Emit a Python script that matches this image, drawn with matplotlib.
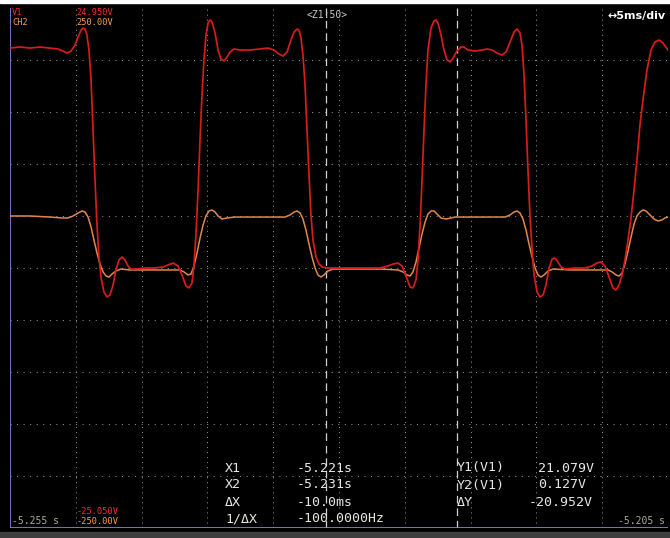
import matplotlib
matplotlib.use('Agg')
import matplotlib.pyplot as plt
from matplotlib.patches import Rectangle

plt.rcParams['lines.scale_dashes'] = False

# 画面设置: 5ms/div, 共10格
t_start = -5.255   # s
t_end = -5.205     # s
v1_top, v1_bottom = 24.950, -25.050
ch2_top, ch2_bottom = 250.00, -250.00

# 光标读数
x1, x2 = -5.221, -5.231
y1, y2 = 21.079, 0.127

# V1 波形 (ms 从左边缘起, V)
v1_t = [0.00, 0.76, 1.52, 2.28, 3.04, 3.65, 4.03, 4.33, 4.64, 4.94, 5.17, 5.40, 5.55, 5.70, 5.85,
        6.00, 6.16, 6.31, 6.46, 6.61, 6.76, 6.92, 7.14, 7.37, 7.60, 7.83, 8.05, 8.28, 8.51, 8.74,
        8.97, 9.19, 9.50, 10.26, 11.02, 11.63, 12.01, 12.39, 12.77, 13.07, 13.37, 13.60, 13.83,
        13.98, 14.13, 14.29, 14.44, 14.59, 14.74, 14.89, 15.05, 15.20, 15.35, 15.58, 15.81, 16.03,
        16.26, 16.49, 16.72, 17.02, 17.48, 18.24, 19.00, 19.60, 20.06, 20.44, 20.75, 21.05, 21.35,
        21.58, 21.81, 21.96, 22.11, 22.26, 22.42, 22.57, 22.72, 22.87, 23.02, 23.25, 23.48, 23.71,
        24.16, 25.08, 26.60, 28.12, 28.72, 29.10, 29.48, 29.79, 30.09, 30.40, 30.62, 30.85, 31.00,
        31.16, 31.31, 31.46, 31.61, 31.76, 31.99, 32.22, 32.37, 32.52, 32.75, 32.98, 33.21, 33.44,
        33.66, 33.97, 34.27, 34.50, 34.80, 35.34, 35.87, 36.25, 36.63, 37.01, 37.39, 37.69, 38.00,
        38.30, 38.53, 38.75, 38.91, 39.06, 39.21, 39.36, 39.51, 39.67, 39.82, 40.05, 40.27, 40.50,
        40.73, 40.96, 41.19, 41.41, 41.64, 41.87, 42.17, 42.93, 43.69, 44.22, 44.60, 44.91, 45.21,
        45.52, 45.82, 46.05, 46.28, 46.51, 46.73, 46.96, 47.19, 47.42, 47.64, 47.87, 48.10, 48.40,
        48.71, 49.01, 49.32, 49.62, 50.00]
v1_v = [21.10, 21.20, 21.10, 21.20, 21.10, 21.01, 20.81, 20.62, 20.81, 21.39, 22.16, 22.83, 23.03, 22.93, 22.35,
        20.91, 18.03, 13.22, 8.41, 4.09, 1.01, -1.01, -2.36, -2.84, -2.65, -1.68, -0.24, 0.72, 1.01, 0.72,
        0.14, -0.15, -0.15, -0.05, -0.05, 0.05, 0.24, 0.43, 0.14, -0.72, -1.78, -1.97, -1.49,
        0.24, 3.12, 7.45, 12.26, 16.58, 19.95, 22.35, 23.51, 23.80, 23.60, 22.55, 20.91, 20.05,
        19.85, 20.24, 20.72, 21.01, 20.91, 20.91, 21.01, 21.10, 20.91, 20.53, 20.33, 20.72, 21.87,
        22.64, 22.93, 22.83, 22.07, 20.43, 17.55, 13.22, 8.89, 5.05, 2.64, 1.01, 0.33, 0.05,
        -0.05, -0.05, -0.05, -0.05, 0.14, 0.33, 0.43, 0.14, -0.82, -1.88, -1.97, -1.20, 0.72,
        4.09, 8.41, 13.22, 17.55, 20.91, 23.03, 23.70, 23.80, 23.51, 22.35, 20.91, 19.95, 19.76,
        20.14, 20.81, 21.20, 21.20, 20.91, 20.81, 20.91, 21.01, 20.91, 20.62, 20.43, 20.72, 21.68,
        22.64, 22.93, 22.55, 21.39, 18.51, 14.18, 9.37, 5.05, 1.68, -0.72, -2.36, -2.84, -2.65,
        -1.68, -0.05, 0.82, 0.91, 0.53, 0.05, -0.15, -0.05, -0.05, 0.14, 0.43, 0.53, 0.14,
        -0.92, -1.97, -2.17, -1.68, -0.72, 0.72, 2.64, 4.76, 7.45, 10.33, 13.70, 16.10, 18.99,
        20.91, 21.68, 21.87, 21.58, 20.91]

# CH2 波形 (ms, V)
ch2_t = [0.00, 1.52, 3.04, 3.95, 4.41, 4.79, 5.17, 5.47, 5.70, 5.93, 6.16, 6.38, 6.61, 6.84, 7.07,
         7.30, 7.52, 7.75, 8.05, 8.43, 9.12, 10.64, 12.16, 12.92, 13.22, 13.53, 13.75, 13.98, 14.21,
         14.44, 14.67, 14.89, 15.12, 15.35, 15.58, 15.81, 16.11, 16.49, 17.10, 19.00, 20.90, 21.28,
         21.58, 21.81, 22.04, 22.26, 22.49, 22.72, 22.95, 23.18, 23.40, 23.63, 23.86, 24.16, 24.54,
         25.84, 28.12, 29.48, 29.86, 30.17, 30.40, 30.62, 30.85, 31.08, 31.31, 31.54, 31.76, 31.99,
         32.22, 32.45, 32.75, 33.13, 33.82, 35.72, 37.62, 38.00, 38.30, 38.53, 38.75, 38.98, 39.21,
         39.44, 39.67, 39.90, 40.12, 40.35, 40.58, 40.88, 41.26, 42.55, 44.84, 45.44, 45.75, 46.05,
         46.28, 46.51, 46.73, 46.96, 47.19, 47.42, 47.64, 47.87, 48.10, 48.33, 48.63, 48.94, 49.24,
         49.54, 49.77, 50.00]
ch2_v = [50.0, 50.0, 49.0, 48.1, 48.1, 50.0, 52.9, 54.8, 53.8, 49.0, 39.4, 26.9, 14.4, 3.8, -3.8,
         -7.7, -8.7, -5.8, -2.9, -1.0, -1.9, -1.9, -1.9, -1.9, -3.8, -6.7, -5.8, 1.9, 14.4,
         28.8, 41.3, 50.0, 54.8, 55.8, 53.8, 50.0, 47.1, 48.1, 49.0, 49.0, 49.0, 51.0,
         53.8, 54.8, 52.9, 47.1, 36.5, 23.1, 10.6, 0.0, -6.7, -8.7, -6.7, -2.9, -1.0,
         -1.0, -1.0, -1.9, -3.8, -6.7, -7.7, -3.8, 5.8, 19.2, 32.7, 44.2, 51.9, 54.8,
         54.8, 51.9, 48.1, 47.1, 49.0, 49.0, 49.0, 51.0, 53.8, 54.8, 52.9, 47.1, 36.5,
         23.1, 10.6, 0.0, -6.7, -8.7, -6.7, -2.9, -1.0, -1.9, -1.9, -1.9, -3.8, -6.7,
         -7.7, -4.8, 3.8, 16.3, 29.8, 42.3, 50.0, 53.8, 55.8, 54.8, 51.0, 47.1, 45.2,
         46.2, 48.1, 49.0]

W, H = 670, 538
red = '#d81c1c'
orange = '#e0884a'
grid_c = '#969696'
frame_c = '#8a8ae6'

fig = plt.figure(figsize=(W / 100, H / 100), dpi=100, facecolor='black')
fig.patches.append(Rectangle((0, 1 - 3 / H), 1, 3 / H, transform=fig.transFigure, color='white'))
fig.patches.append(Rectangle((0, 0), 1, 6 / H, transform=fig.transFigure, color='#3e3e3e'))

ax = fig.add_axes([10 / W, (H - 528) / H, 658 / W, 520 / H])
ax.set_facecolor('black')
span_ms = (t_end - t_start) * 1000
ax.set_xlim(0, span_ms)
ax.set_ylim(v1_bottom, v1_top)
ax.axis('off')

# 格线 (点线)
dx = span_ms / 10
dy = (v1_top - v1_bottom) / 10
for k in range(1, 10):
    ax.axvline(k * dx, color=grid_c, lw=0.72, ls=(0, (0.72, 2.9)), zorder=1)
    ax.axhline(v1_bottom + k * dy, color=grid_c, lw=0.72, ls=(0, (0.72, 4.0)), zorder=1)

# 左边和底边框
ax.axvline(0, color=frame_c, lw=1.2, zorder=5)
ax.axhline(v1_bottom + 0.02, color=frame_c, lw=1.2, zorder=5)

# 光标
for c in (x1, x2):
    ax.axvline((c - t_start) * 1000, color='#d0d0d0', lw=0.9, ls=(0, (5.5, 3.5)), zorder=2)

ax2 = ax.twinx()
ax2.set_ylim(ch2_bottom, ch2_top)
ax2.axis('off')
ax2.plot(ch2_t, ch2_v, color=orange, lw=1.1, zorder=3)
ax3 = ax.twinx()
ax3.set_ylim(v1_bottom, v1_top)
ax3.axis('off')
ax3.plot(v1_t, v1_v, color=red, lw=1.25, zorder=4)


def txt(x, y, s, **kw):
    kw.setdefault('family', 'DejaVu Sans Mono')
    fig.text(x / W, 1 - y / H, s, va='center', **kw)


small = 6.2
txt(12, 12.5, 'V1', color='#ff2828', fontsize=small)
txt(12, 22.5, 'CH2', color='#f5a050', fontsize=small)
txt(76, 12.5, '%.3fV' % v1_top, color='#ff2828', fontsize=small)
txt(76, 22.5, '%.2fV' % ch2_top, color='#f5a050', fontsize=small)
txt(76, 512, '%.3fV' % v1_bottom, color='#ff2828', fontsize=small)
txt(76, 522, '%.2fV' % ch2_bottom, color='#f5a050', fontsize=small)
txt(307, 15, '<Z1:50>', color='#c8c8c8', fontsize=7)
txt(666, 16, '↔5ms/div', color='white', fontsize=8, family='DejaVu Sans', weight='bold', ha='right')
txt(12, 521, '%.3f s' % t_start, color='#a8a8a8', fontsize=7)
txt(665, 521, '%.3f s' % t_end, color='#a8a8a8', fontsize=7, ha='right')

rows = [468, 485, 502, 519]
rc = '#e6e6e6'
fs = 9.5
txt(225, rows[0], 'X1', color=rc, fontsize=fs)
txt(225, rows[1], 'X2', color=rc, fontsize=fs)
txt(225, rows[2], 'ΔX', color=rc, fontsize=fs)
txt(225, rows[3], '1/ΔX', color=rc, fontsize=fs)
txt(297, rows[0], '%.3fs' % x1, color=rc, fontsize=fs)
txt(297, rows[1], '%.3fs' % x2, color=rc, fontsize=fs)
txt(297, rows[2], '%.1fms' % ((x2 - x1) * 1000), color=rc, fontsize=fs)
txt(297, rows[3], '%.4fHz' % (1 / (x2 - x1)), color=rc, fontsize=fs)
txt(457, rows[0], 'Y1(V1)', color=rc, fontsize=fs)
txt(457, rows[1], 'Y2(V1)', color=rc, fontsize=fs)
txt(457, rows[2], 'ΔY', color=rc, fontsize=fs)
txt(538, rows[0], '%.3fV' % y1, color=rc, fontsize=fs)
txt(538, rows[1], '%.3fV' % y2, color=rc, fontsize=fs)
txt(529, rows[2], '%.3fV' % (y2 - y1), color=rc, fontsize=fs)

fig.savefig('out.png', dpi=100, facecolor='black')
